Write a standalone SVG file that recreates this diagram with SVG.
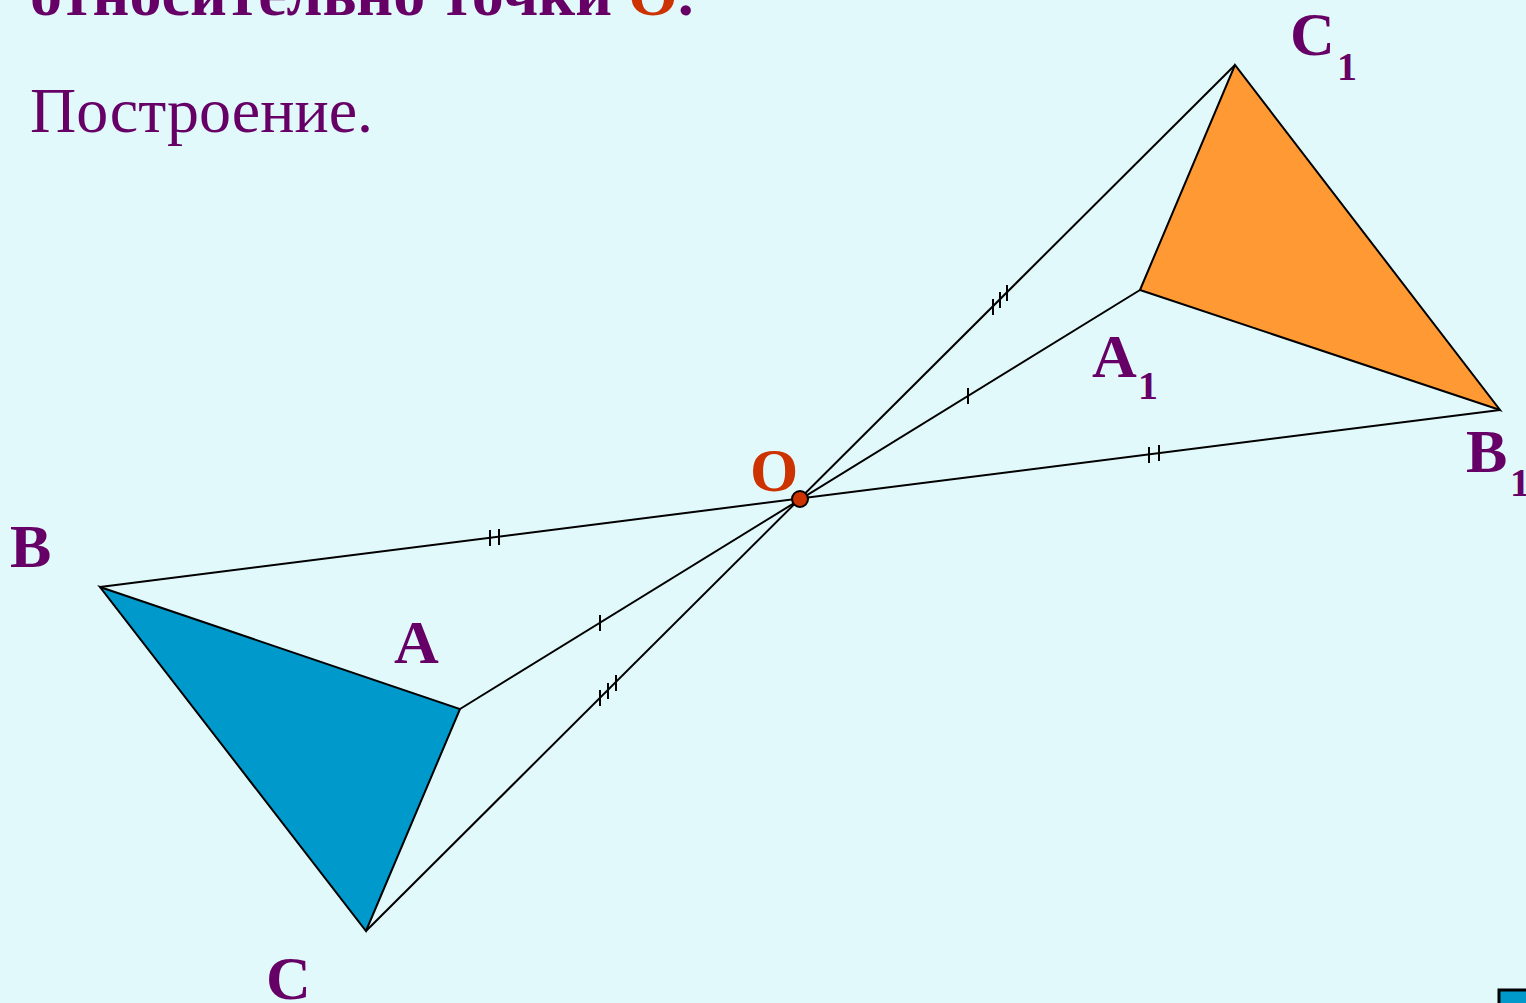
<svg xmlns="http://www.w3.org/2000/svg" width="1526" height="1003" viewBox="0 0 1526 1003">
<style>
.lbl{font-family:"Liberation Serif","Times New Roman",serif;font-weight:bold;fill:#660066}
.big{font-size:62px}
.sub{font-size:40px}
.seg{stroke:#000;stroke-width:2;fill:none}
.tick{stroke:#000;stroke-width:2}
.tri{stroke:#000;stroke-width:2;stroke-linejoin:miter}
</style>
<rect x="0" y="0" width="1526" height="1003" fill="#E2F9FC"/>
<text x="30" y="15" font-family="'Liberation Serif','Times New Roman',serif" font-weight="bold" font-size="64" fill="#660066">относительно точки <tspan fill="#CC3300">O</tspan>.</text>
<text x="30" y="132" font-family="'Liberation Serif','Times New Roman',serif" font-size="64" fill="#660066">Построение.</text>
<g id="triangle-ABC">
<polygon class="tri" points="100,587 460,709 366,931" fill="#0099CC"/>
</g>
<g id="triangle-A1B1C1">
<polygon class="tri" points="1140,290 1500,410 1235,65" fill="#FF9933"/>
</g>
<g id="connectors">
<line class="seg" x1="100" y1="587" x2="1500" y2="410"/>
<line class="seg" x1="460" y1="709" x2="1140" y2="290"/>
<line class="seg" x1="366" y1="931" x2="1235" y2="65"/>
<line class="tick" x1="490" y1="530" x2="490" y2="546"/>
<line class="tick" x1="499" y1="529" x2="499" y2="545"/>
<line class="tick" x1="1149" y1="447" x2="1149" y2="463"/>
<line class="tick" x1="1159" y1="445" x2="1159" y2="461"/>
<line class="tick" x1="600" y1="615" x2="600" y2="631"/>
<line class="tick" x1="968" y1="388" x2="968" y2="404"/>
<line class="tick" x1="600" y1="690" x2="600" y2="706"/>
<line class="tick" x1="608" y1="683" x2="608" y2="699"/>
<line class="tick" x1="616" y1="675" x2="616" y2="691"/>
<line class="tick" x1="993" y1="299" x2="993" y2="315"/>
<line class="tick" x1="1000" y1="292" x2="1000" y2="308"/>
<line class="tick" x1="1007" y1="285" x2="1007" y2="301"/>
</g>
<g id="point-O">
<circle cx="800" cy="499" r="8" fill="#CC3300" stroke="#000" stroke-width="2"/>
<text x="750" y="491" font-family="'Liberation Serif','Times New Roman',serif" font-weight="bold" font-size="62" fill="#CC3300">O</text>
</g>
<g id="label-A"><text class="lbl big" x="394" y="663">A</text></g>
<g id="label-B"><text class="lbl big" x="10" y="567">B</text></g>
<g id="label-C"><text class="lbl big" x="266" y="999">C</text></g>
<g id="label-A1"><text class="lbl big" x="1092" y="377">A</text><text class="lbl sub" x="1138" y="399">1</text></g>
<g id="label-B1"><text class="lbl big" x="1466" y="472">B</text><text class="lbl sub" x="1510" y="496">1</text></g>
<g id="label-C1"><text class="lbl big" x="1290" y="55">C</text><text class="lbl sub" x="1337" y="80">1</text></g>
<rect x="1499" y="990" width="40" height="30" fill="#0099CC" stroke="#000" stroke-width="3"/>
</svg>
